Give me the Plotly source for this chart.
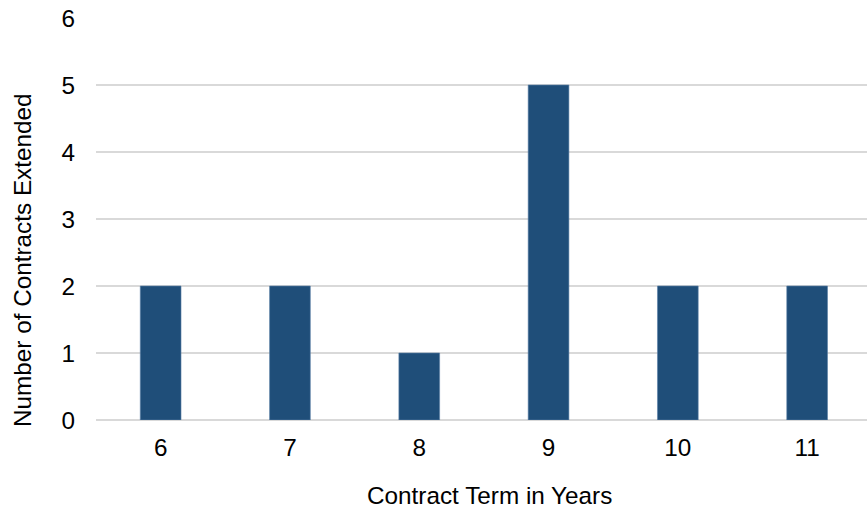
import plotly.graph_objects as go

# Contract extensions by term length
terms = ["6", "7", "8", "9", "10", "11"]
contracts = [2, 2, 1, 5, 2, 2]

W, H = 867, 510
L, R, T, B = 96, 0, 18, 90
pw, ph = W - L - R, H - T - B

bar_color = "#1F4E79"
grid_color = "#D9D9D9"
font_family = "Liberation Sans, Arial, sans-serif"
fsize = 24.3

xpos = list(range(len(terms)))

fig = go.Figure(
    go.Bar(
        x=xpos,
        y=contracts,
        width=0.315,
        marker=dict(color=bar_color, line=dict(color="#5B7FA6", width=0.6)),
        hoverinfo="x+y",
    )
)

fig.update_layout(
    width=W,
    height=H,
    margin=dict(l=L, r=R, t=T, b=B),
    paper_bgcolor="white",
    plot_bgcolor="white",
    showlegend=False,
    font=dict(family=font_family, size=fsize, color="#000000"),
    xaxis=dict(
        range=[-0.5, 5.463],
        tickvals=xpos,
        ticktext=terms,
        showgrid=False,
        zeroline=False,
        showline=False,
        ticks="",
        ticklabelstandoff=11,
        fixedrange=True,
    ),
    yaxis=dict(
        range=[0, 6],
        dtick=1,
        showgrid=True,
        gridcolor=grid_color,
        gridwidth=2,
        zeroline=True,
        zerolinecolor=grid_color,
        zerolinewidth=2,
        showline=False,
        ticks="",
        ticklabelstandoff=20,
        fixedrange=True,
    ),
    annotations=[
        dict(
            text="Contract Term in Years",
            xref="paper", yref="paper",
            x=(490 - L) / pw, y=-(495 - (T + ph)) / ph,
            xanchor="center", yanchor="middle",
            showarrow=False,
            font=dict(family=font_family, size=fsize),
        ),
        dict(
            text="Number of Contracts Extended",
            xref="paper", yref="paper",
            x=-(L - 22) / pw, y=1 - (260 - T) / ph,
            xanchor="center", yanchor="middle",
            textangle=-90,
            showarrow=False,
            font=dict(family=font_family, size=fsize),
        ),
    ],
)

fig.write_html("out.html")
